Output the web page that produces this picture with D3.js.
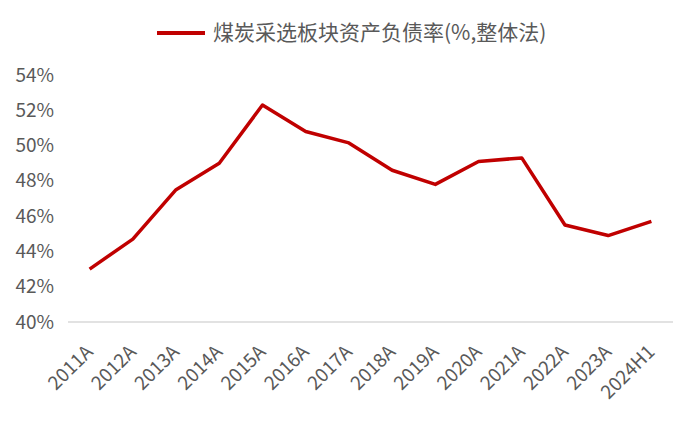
<!DOCTYPE html>
<html>
<head>
<meta charset="utf-8">
<script src="https://cdn.jsdelivr.net/npm/d3@7"></script>
<style>
  body { margin: 0; background: #fff; }
  text { font-family: "Noto Sans CJK SC", "Noto Sans", sans-serif; fill: #595959; }
</style>
</head>
<body>
<div id="chart"></div>
<script>
var svgWidth = 700;
var svgHeight = 423;

// data
var categories = ["2011A", "2012A", "2013A", "2014A", "2015A", "2016A", "2017A",
    "2018A", "2019A", "2020A", "2021A", "2022A", "2023A", "2024H1"];
var debtRatio = [43.0, 44.7, 47.5, 49.0, 52.3, 50.8, 50.15, 48.6, 47.8, 49.1, 49.3, 45.5, 44.9, 45.7];
var yTicks = [40, 42, 44, 46, 48, 50, 52, 54];
var seriesName = "煤炭采选板块资产负债率(%,整体法)";

var margin = { top: 75, right: 27, bottom: 101, left: 68 };
var width = svgWidth - margin.left - margin.right;
var height = svgHeight - margin.top - margin.bottom;

var svg = d3.select("#chart")
    .append("svg")
    .attr("width", svgWidth)
    .attr("height", svgHeight);

var chartGroup = svg.append("g")
    .attr("transform", `translate(${margin.left}, ${margin.top})`);

var xScale = d3.scalePoint()
    .domain(categories)
    .range([0, width])
    .padding(0.5);

var yScale = d3.scaleLinear()
    .domain([40, 54])
    .range([height, 0]);

// baseline at 40%
chartGroup.append("line")
    .attr("x1", 0)
    .attr("x2", width)
    .attr("y1", yScale(40))
    .attr("y2", yScale(40))
    .attr("stroke", "#d9d9d9")
    .attr("stroke-width", 1.3);

// y axis labels
var leftAxis = d3.axisLeft(yScale)
    .tickValues(yTicks)
    .tickSize(0)
    .tickPadding(14)
    .tickFormat(d => d + "%");

var yAxis = chartGroup.append("g").call(leftAxis);
yAxis.select(".domain").remove();
yAxis.selectAll("text")
    .attr("font-size", "19px")
    .style("fill", "#595959");

// x axis labels, rotated
var bottomAxis = d3.axisBottom(xScale).tickSize(0).tickPadding(0);
var xAxis = chartGroup.append("g")
    .attr("transform", `translate(0, ${height})`)
    .call(bottomAxis);
xAxis.select(".domain").remove();
xAxis.selectAll("text")
    .attr("font-size", "19px")
    .style("fill", "#595959")
    .attr("text-anchor", "end")
    .attr("dy", 0)
    .attr("y", 0)
    .attr("transform", "translate(4, 31) rotate(-45)");

// the line
var line = d3.line()
    .x((d, i) => xScale(categories[i]))
    .y(d => yScale(d));

chartGroup.append("path")
    .datum(debtRatio)
    .attr("fill", "none")
    .attr("stroke", "#c00000")
    .attr("stroke-width", 3.5)
    .attr("stroke-linejoin", "round")
    .attr("d", line);

// legend
var legend = svg.append("g")
    .attr("transform", "translate(157, 33)");

legend.append("line")
    .attr("x1", 0)
    .attr("x2", 48)
    .attr("y1", 0)
    .attr("y2", 0)
    .attr("stroke", "#c00000")
    .attr("stroke-width", 4);

legend.append("text")
    .attr("x", 56)
    .attr("y", 0)
    .attr("dy", "0.35em")
    .attr("font-size", "21px")
    .text(seriesName);
</script>
</body>
</html>
